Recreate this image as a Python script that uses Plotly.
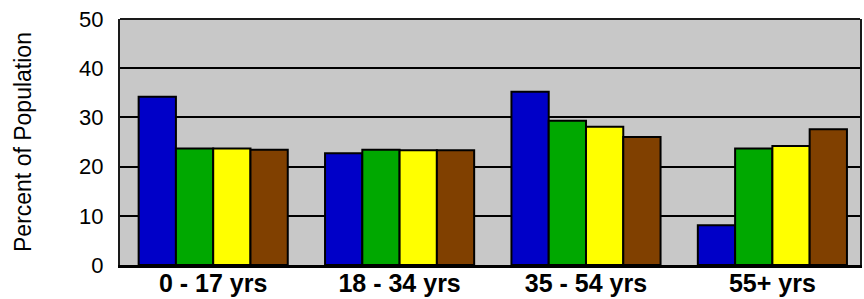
import plotly.graph_objects as go

categories = ["0 - 17 yrs", "18 - 34 yrs", "35 - 54 yrs", "55+ yrs"]
series_names = ["Series A", "Series B", "Series C", "Series D"]
series_a = [34.2, 22.7, 35.2, 8.1]
series_b = [23.7, 23.4, 29.3, 23.7]
series_c = [23.7, 23.3, 28.1, 24.2]
series_d = [23.4, 23.3, 26.0, 27.6]
y_ticks = [0, 10, 20, 30, 40, 50]
y_title = "Percent of Population"

colors = ["#0000C8", "#00A800", "#FFFF00", "#804000"]
values = [series_a, series_b, series_c, series_d]

fig = go.Figure()
for name, vals, col in zip(series_names, values, colors):
    fig.add_trace(go.Bar(
        x=categories, y=vals, name=name,
        marker=dict(color=col, line=dict(color="#000000", width=2)),
    ))

W, H = 864, 299
ml, mr, mt, mb = 120, 4, 19, 34
fig.update_layout(
    width=W, height=H,
    margin=dict(l=ml, r=mr, t=mt, b=mb, autoexpand=False),
    barmode="group", bargap=0.2, bargroupgap=0,
    showlegend=False,
    paper_bgcolor="white", plot_bgcolor="#C8C8C8",
    font=dict(family="Liberation Sans, Arial, sans-serif", color="#000000"),
)
fig.update_xaxes(
    type="category", range=[-0.5, 3.47], automargin=False,
    showline=True, linecolor="#000000", linewidth=3, mirror=False,
    showgrid=False, ticks="",
    tickfont=dict(size=25, weight="bold", color="#000000"),
    ticklabelstandoff=-6,
)
fig.update_yaxes(
    range=[0, 50], tickvals=y_ticks, automargin=False,
    showline=True, linecolor="#1a1a1a", linewidth=2, mirror=True,
    showgrid=True, gridcolor="#000000", gridwidth=2,
    zeroline=False, ticks="",
    tickfont=dict(size=22, color="#000000"),
    ticklabelstandoff=10,
)
fig.add_shape(type="line", xref="paper", yref="paper", x0=0, x1=1, y0=1, y1=1,
              line=dict(color="#1a1a1a", width=2))
pw = W - ml - mr
fig.add_annotation(
    text=y_title, textangle=-90, showarrow=False,
    xref="paper", yref="paper", x=(23 - ml) / pw, y=0.5,
    xanchor="center", yanchor="middle",
    font=dict(size=23, color="#000000"),
)
fig.write_html("out.html", config={"displayModeBar": False},
               post_script="document.body.style.margin='0px';")
